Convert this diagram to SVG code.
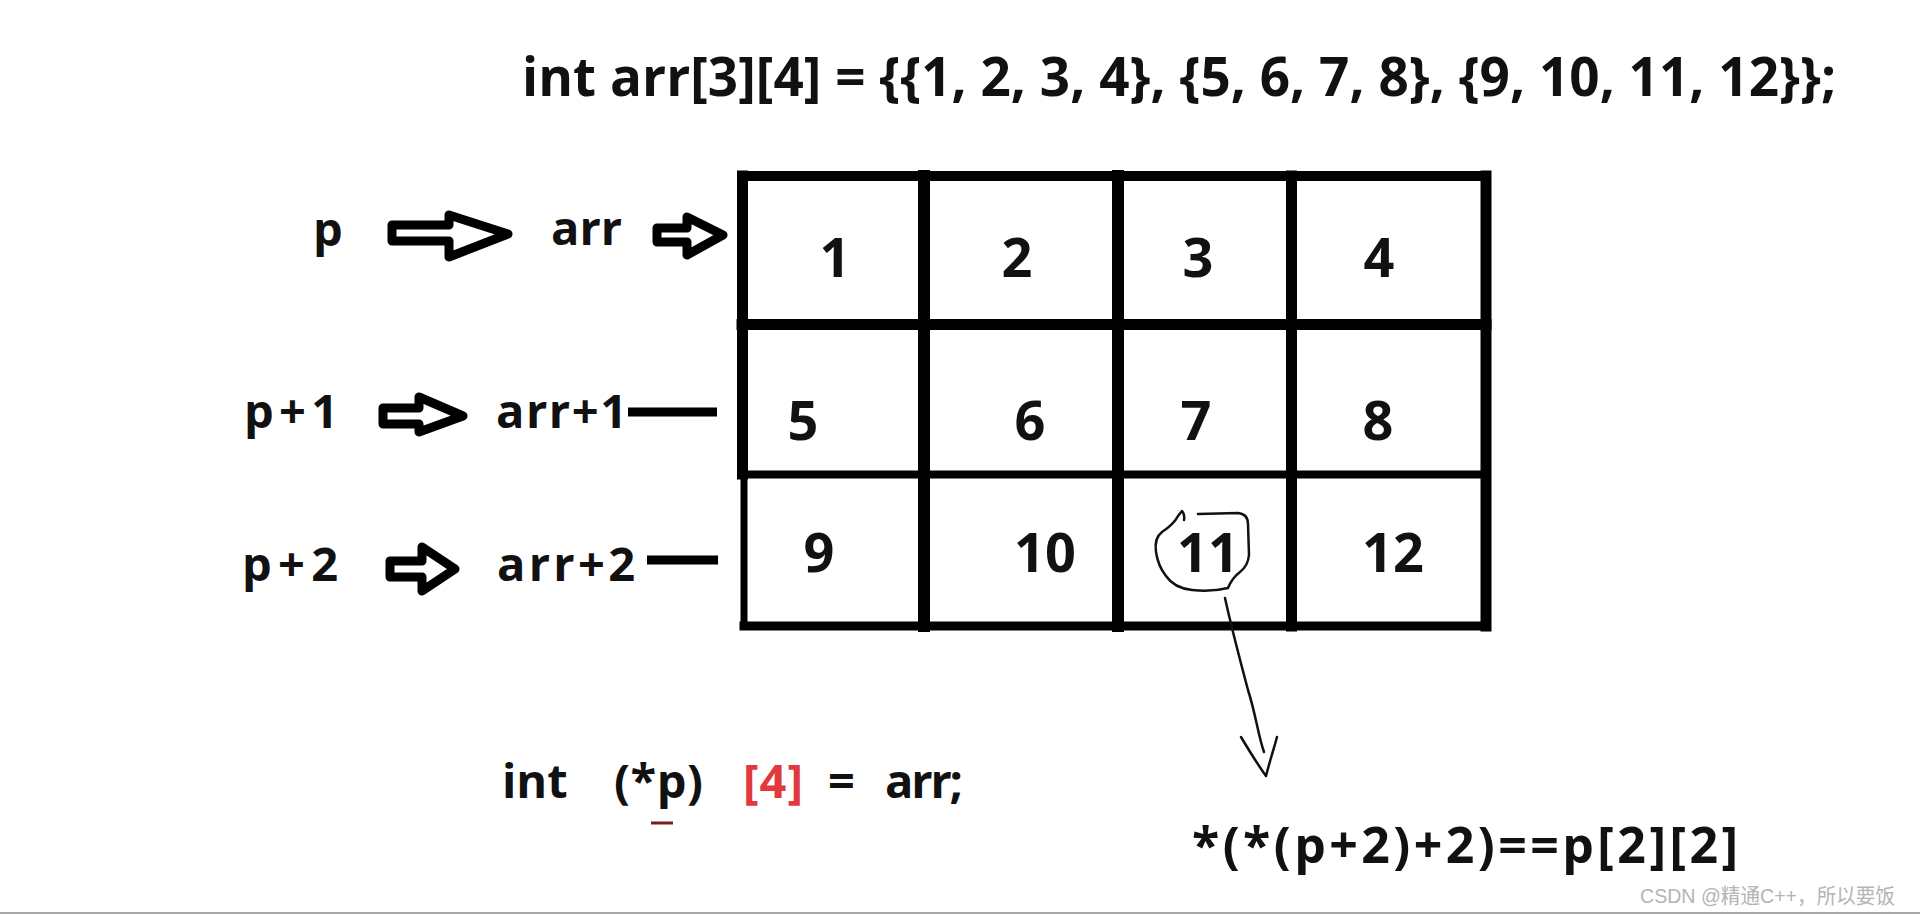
<svg xmlns="http://www.w3.org/2000/svg" width="1920" height="915" viewBox="0 0 1920 915">
<style>
.t{font-family:"Open Sans","Liberation Sans",sans-serif;font-weight:700;fill:#111}
.title{font-size:53px}
.lbl{font-size:47px}
.num{font-size:54px;text-anchor:middle}
.grid{stroke:#000;fill:none;stroke-linecap:square}
.blk{fill:#fff;stroke:#000;stroke-width:9;stroke-linejoin:round}
.bar{stroke:#000;stroke-width:9}
.hand{fill:none;stroke:#111;stroke-width:2.5;stroke-linecap:round;stroke-linejoin:round}
.wm{font-family:"Liberation Sans","Noto Sans CJK SC",sans-serif;font-size:21px;fill:#b4b4b4}
</style>
<rect width="1920" height="915" fill="#fff"/>
<g id="title">
<text class="t title" x="522" y="96" textLength="1314" lengthAdjust="spacing">int arr[3][4] = {{1, 2, 3, 4}, {5, 6, 7, 8}, {9, 10, 11, 12}};</text>
</g>
<g id="array">
<path class="grid" stroke-width="10" d="M742,176 H1486"/>
<path class="grid" stroke-width="11" d="M742.5,176 V474"/>
<path class="grid" stroke-width="7" d="M744,476 V626"/>
<path class="grid" stroke-width="11" d="M1486,176 V626"/>
<path class="grid" stroke-width="9" d="M744,626 H1486"/>
<path class="grid" stroke-width="11" d="M742,324.5 H1486"/>
<path class="grid" stroke-width="8" d="M742,474.5 H1486"/>
<path class="grid" stroke-width="12" d="M924,176 V626"/>
<path class="grid" stroke-width="12" d="M1118,176 V626"/>
<path class="grid" stroke-width="11" d="M1291.5,176 V626"/>
<g id="cells">
<text class="t num" x="835" y="277">1</text>
<text class="t num" x="1017" y="277">2</text>
<text class="t num" x="1198" y="277">3</text>
<text class="t num" x="1379" y="277">4</text>
<text class="t num" x="803" y="440">5</text>
<text class="t num" x="1030" y="440">6</text>
<text class="t num" x="1196" y="440">7</text>
<text class="t num" x="1378" y="440">8</text>
<text class="t num" x="819" y="572">9</text>
<text class="t num" x="1045" y="572">10</text>
<text class="t num" x="1208" y="572">11</text>
<text class="t num" x="1393" y="572">12</text>
</g>
</g>
<g id="label-p">
<text class="t lbl" x="313" y="246">p</text>
</g>
<g id="label-arr">
<text class="t lbl" x="551" y="245">arr</text>
</g>
<g id="label-p1">
<text class="t lbl" x="244" y="428" textLength="94" lengthAdjust="spacing">p+1</text>
</g>
<g id="label-arr1">
<text class="t lbl" x="496" y="428" textLength="131" lengthAdjust="spacing">arr+1</text>
</g>
<g id="label-p2">
<text class="t lbl" x="242" y="581" textLength="96" lengthAdjust="spacing">p+2</text>
</g>
<g id="label-arr2">
<text class="t lbl" x="497" y="581" textLength="138" lengthAdjust="spacing">arr+2</text>
</g>
<g id="connectors">
<path class="blk" d="M392,225 H449 V215 L508,234 L449,257 V241 H392 Z"/>
<path class="blk" d="M657,228 H687 V217 L723,235 L687,255 V242 H657 Z"/>
<path class="blk" d="M383,408 H419 V397 L463,416 L419,432 V424 H383 Z"/>
<path class="blk" d="M390,561 H422 V547 L455,569 L422,591 V577 H390 Z"/>
<path class="bar" d="M628,412 H717"/>
<path class="bar" stroke-width="8" d="M647,560 H718"/>
<path class="hand" d="M1225,598 C1232,630 1240,660 1248,690 C1256,715 1258,735 1264,752"/>
<path class="hand" d="M1241,737 C1250,752 1258,765 1266,776 C1270,760 1275,745 1277,737"/>
</g>
<g id="highlight-11">
<path class="hand" d="M1198,514 L1238,513 Q1248,514 1248,524 L1249,555 Q1248,566 1240,572 Q1232,578 1228,588 Q1212,592 1192,590 Q1174,588 1166,576 Q1158,566 1156,552 Q1154,538 1162,532 Q1174,524 1178,516 L1182,511 Q1185,515 1184,520"/>
</g>
<g id="declaration">
<text class="t lbl" x="502" y="798">int</text>
<text class="t lbl" x="614" y="798" textLength="89" lengthAdjust="spacing">(*p)</text>
<path d="M651,823 H673" stroke="#7a1c1c" stroke-width="3"/>
<text class="t lbl" x="743" y="798" textLength="60" lengthAdjust="spacing" style="fill:#e0393e">[4]</text>
<text class="t lbl" x="828" y="798">=</text>
<text class="t lbl" x="885" y="798" textLength="78" lengthAdjust="spacing">arr;</text>
</g>
<g id="formula">
<text class="t" x="1192" y="863" font-size="50" textLength="546" lengthAdjust="spacing">*(*(p+2)+2)==p[2][2]</text>
</g>
<g id="watermark">
<text class="wm" x="1640" y="903" textLength="255" lengthAdjust="spacingAndGlyphs">CSDN @精通C++，所以要饭</text>
</g>
<path d="M0,913 H1920" stroke="#a8a8a8" stroke-width="2"/>
</svg>
